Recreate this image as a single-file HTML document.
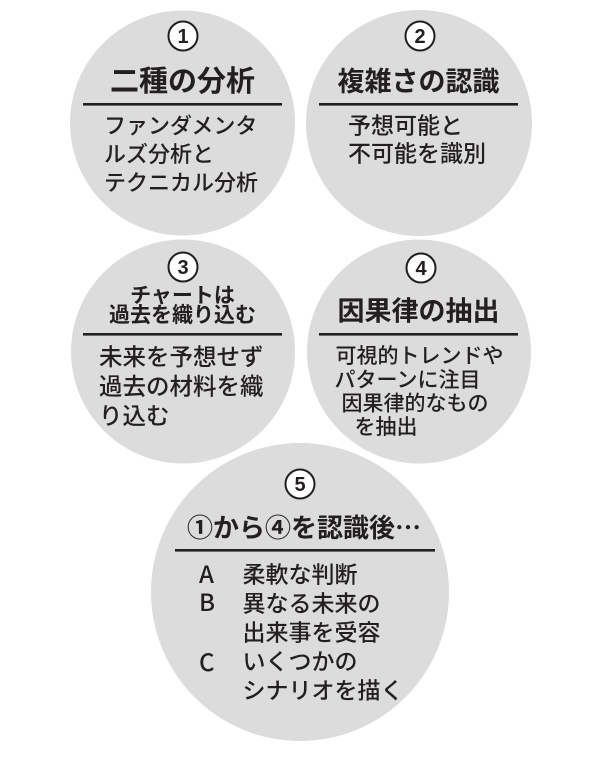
<!DOCTYPE html>
<html>
<head>
<meta charset="utf-8">
<style>
  html, body { margin:0; padding:0; background:#ffffff; }
  body { width:600px; height:782px; overflow:hidden; }
  svg { display:block; }
  text { font-family: "Liberation Sans", "Noto Sans CJK JP", sans-serif; fill:#231f20; }
  .jp { font-family: "Noto Sans CJK JP", "Liberation Sans", sans-serif; font-weight:500; }
  .b { font-weight:700; }
</style>
</head>
<body>
<svg width="600" height="782" viewBox="0 0 600 782" xmlns="http://www.w3.org/2000/svg">
  <!-- circles -->
  <circle cx="182.5" cy="123" r="112.5" fill="#dcdcdc"/>
  <circle cx="419" cy="123" r="113" fill="#dcdcdc"/>
  <circle cx="183" cy="351.5" r="112" fill="#dcdcdc"/>
  <circle cx="419" cy="351.5" r="112" fill="#dcdcdc"/>
  <circle cx="300" cy="592" r="149" fill="#dcdcdc"/>

  <!-- divider lines -->
  <rect x="83" y="103" width="199" height="2.6" fill="#231f20"/>
  <rect x="319" y="103" width="199" height="2.6" fill="#231f20"/>
  <rect x="83" y="333" width="199" height="2.6" fill="#231f20"/>
  <rect x="319" y="333" width="199" height="2.6" fill="#231f20"/>
  <rect x="175" y="549" width="260" height="2.6" fill="#231f20"/>

  <!-- number badges -->
  <g>
    <circle cx="183" cy="36" r="14.5" fill="#ffffff" stroke="#231f20" stroke-width="2"/>
    <text class="b" x="183" y="43" font-size="20" text-anchor="middle">1</text>
    <circle cx="420" cy="36" r="14.5" fill="#ffffff" stroke="#231f20" stroke-width="2"/>
    <text class="b" x="420" y="43" font-size="20" text-anchor="middle">2</text>
    <circle cx="183" cy="267" r="14.5" fill="#ffffff" stroke="#231f20" stroke-width="2"/>
    <text class="b" x="183" y="274" font-size="20" text-anchor="middle">3</text>
    <circle cx="421" cy="268" r="14.5" fill="#ffffff" stroke="#231f20" stroke-width="2"/>
    <text class="b" x="421" y="275" font-size="20" text-anchor="middle">4</text>
    <circle cx="300" cy="484" r="14.5" fill="#ffffff" stroke="#231f20" stroke-width="2"/>
    <text class="b" x="300" y="491" font-size="20" text-anchor="middle">5</text>
  </g>

  <!-- circle 1 -->
  <text class="jp b" x="182.5" y="91" font-size="29" text-anchor="middle">二種の分析</text>
  <text class="jp" x="104" y="133.4" font-size="22">ファンダメンタ</text>
  <text class="jp" x="104" y="161.9" font-size="22">ルズ分析と</text>
  <text class="jp" x="104" y="190.4" font-size="22">テクニカル分析</text>

  <!-- circle 2 -->
  <text class="jp b" x="418.5" y="90.8" font-size="27" text-anchor="middle">複雑さの認識</text>
  <text class="jp" x="348" y="133.7" font-size="23">予想可能と</text>
  <text class="jp" x="348" y="161.7" font-size="23">不可能を識別</text>

  <!-- circle 3 -->
  <text class="jp b" x="182.5" y="302.5" font-size="21" text-anchor="middle">チャートは</text>
  <text class="jp b" x="182.5" y="322" font-size="21" text-anchor="middle">過去を織り込む</text>
  <text class="jp" x="99" y="364.9" font-size="23.5">未来を予想せず</text>
  <text class="jp" x="99" y="394.4" font-size="23.5">過去の材料を織</text>
  <text class="jp" x="99" y="423.9" font-size="23.5">り込む</text>

  <!-- circle 4 -->
  <text class="jp b" x="418.5" y="320.3" font-size="27" text-anchor="middle">因果律の抽出</text>
  <text class="jp" x="335.5" y="363" font-size="21">可視的トレンドや</text>
  <text class="jp" x="334.5" y="387" font-size="21">パターンに注目</text>
  <text class="jp" x="341.5" y="410.5" font-size="21">因果律的なもの</text>
  <text class="jp" x="354.5" y="434" font-size="21">を抽出</text>

  <!-- circle 5 -->
  <text class="jp b" x="187" y="537" font-size="26">①から④を認識後…</text>
  <text class="jp" x="199" y="583" font-size="24">A</text>
  <text class="jp" x="199" y="611" font-size="24">B</text>
  <text class="jp" x="199" y="671" font-size="24">C</text>
  <text class="jp" x="242.5" y="582.7" font-size="23">柔軟な判断</text>
  <text class="jp" x="242.5" y="611.7" font-size="23">異なる未来の</text>
  <text class="jp" x="242.5" y="640.7" font-size="23">出来事を受容</text>
  <text class="jp" x="242.5" y="669.7" font-size="23">いくつかの</text>
  <text class="jp" x="242.5" y="698.7" font-size="23">シナリオを描く</text>
</svg>
</body>
</html>
